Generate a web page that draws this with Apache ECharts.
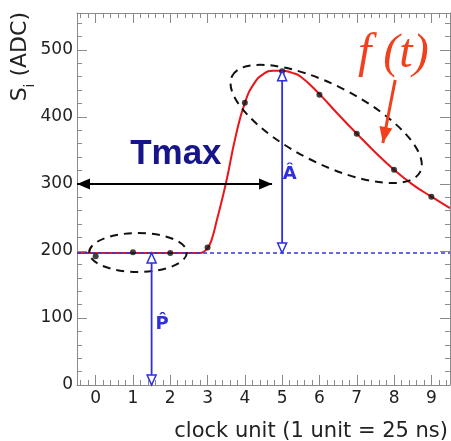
<!DOCTYPE html>
<html><head><meta charset="utf-8">
<script src="https://cdn.jsdelivr.net/npm/echarts@6/dist/echarts.min.js"></script>
<style>html,body{margin:0;padding:0;background:#fff}#c{width:451px;height:441px}</style>
</head><body><div id="c"></div>
<script>
// ---- data ----
const sampleX = [0, 1, 2, 3, 4, 5, 6, 7, 8, 9];
const sampleY = [192, 198, 197, 205, 421, 468, 433, 375, 321, 281];
const curveX = [-0.5, 2.8, 2.9, 3.0, 3.1, 3.25, 3.5, 3.75, 4.0, 4.25, 4.5, 4.75, 5.0, 5.25, 5.5, 6.0, 6.5, 7.0, 7.5, 8.0, 8.5, 9.0, 9.5];
const curveY = [197, 197, 199, 204, 215, 246, 303, 370, 421, 450, 464, 469, 469, 466, 460, 434, 404, 375, 347, 321, 299, 281, 264];
const pedestal = 197;
const peakX = 5;
const peakY = 469;
const tmaxLevel = 300;
const tmaxEnd = 4.73;
const pedX = 1.5;
const xLabels = ['0','1','2','3','4','5','6','7','8','9'];
const yLabels = ['0','100','200','300','400','500'];
const xTitle = 'clock unit (1 unit = 25 ns)';

const chart = echarts.init(document.getElementById('c'), null, {renderer: 'canvas'});
const GRAY = '#8a8a8a';
const FONT = '"DejaVu Sans", sans-serif';
function axisBase(showLabel, pos) {
  return {
    position: pos,
    axisLine: {show: true, onZero: false, lineStyle: {color: GRAY, width: 1}},
    axisTick: {show: true, inside: true, length: 10, lineStyle: {color: GRAY, width: 1}},
    minorTick: {show: true, splitNumber: 5, length: 5, lineStyle: {color: GRAY, width: 1}},
    splitLine: {show: false},
    minorSplitLine: {show: false},
    axisLabel: {show: showLabel, color: '#222', fontSize: 17, fontFamily: FONT}
  };
}
const xa = (showLabel, pos) => Object.assign(axisBase(showLabel, pos), {
  type: 'value', min: -0.5, max: 9.5, splitNumber: 10
});
const ya = (showLabel, pos) => Object.assign(axisBase(showLabel, pos), {
  type: 'value', min: 0, max: 555, interval: 100
});
const xAxis0 = xa(true, 'bottom');
xAxis0.axisLabel.margin = 5;
xAxis0.axisLabel.formatter = v => { const s = String(Math.round(v)); return (Math.abs(v - Math.round(v)) < 1e-6 && xLabels.includes(s)) ? s : ''; };
xAxis0.axisLabel.showMinLabel = false;
xAxis0.axisLabel.showMaxLabel = false;
const yAxis0 = ya(true, 'left');
yAxis0.axisLabel.margin = 4;
yAxis0.axisLabel.formatter = v => yLabels.includes(String(v)) ? String(v) : '';
yAxis0.axisLabel.showMaxLabel = false;

const option = {
  animation: false,
  backgroundColor: '#fff',
  grid: {left: 77, right: 1, top: 13, bottom: 56, containLabel: false},
  xAxis: [xAxis0, xa(false, 'top')],
  yAxis: [yAxis0, ya(false, 'right')],
  series: [
    {type: 'line', data: curveX.map((x, i) => [x, curveY[i]]), smooth: 0.5,
     showSymbol: false, lineStyle: {color: '#e8161b', width: 2}, z: 2, silent: true},
    {type: 'line', data: [[-0.5, pedestal], [9.5, pedestal]], showSymbol: false,
     lineStyle: {color: '#3535e0', width: 1.6, type: [4, 3]}, z: 3, silent: true},
    {type: 'scatter', data: sampleX.map((x, i) => [x, sampleY[i]]), symbolSize: 6,
     itemStyle: {color: '#111'}, z: 4, silent: true}
  ]
};
chart.setOption(option);

function P(x, y) { return chart.convertToPixel({xAxisIndex: 0, yAxisIndex: 0}, [x, y]); }
function head(tip, from, len, hw) {
  const dx = tip[0] - from[0], dy = tip[1] - from[1];
  const d = Math.hypot(dx, dy), ux = dx / d, uy = dy / d;
  const bx = tip[0] - ux * len, by = tip[1] - uy * len;
  return [[tip[0], tip[1]], [bx - uy * hw, by + ux * hw], [bx + uy * hw, by - ux * hw]];
}
const G = [];
function line(a, b, color, w) {
  G.push({type: 'line', z: 100, shape: {x1: a[0], y1: a[1], x2: b[0], y2: b[1]}, style: {stroke: color, lineWidth: w}});
}
function poly(pts, fill, stroke, w) {
  G.push({type: 'polygon', z: 101, shape: {points: pts}, style: {fill: fill, stroke: stroke || null, lineWidth: w || 0}});
}
function text(t, p, opts) {
  G.push({type: 'text', z: 102, x: p[0], y: p[1], rotation: opts.rotation || 0,
    style: Object.assign({text: t, align: 'center', verticalAlign: 'middle', textAlign: 'center', textVerticalAlign: 'middle'}, opts.style)});
}
function ellipse(c, rx, ry, rot) {
  G.push({type: 'ellipse', z: 99, x: c[0], y: c[1], rotation: rot, shape: {cx: 0, cy: 0, rx: rx, ry: ry},
    style: {fill: null, stroke: '#111', lineWidth: 2, lineDash: [8, 6]}});
}

// Tmax arrow
const t0 = P(-0.5, tmaxLevel), t1 = P(tmaxEnd, tmaxLevel);
line(t0, t1, '#000', 2);
poly(head(t0, t1, 13, 5.5), '#000');
poly(head(t1, t0, 13, 5.5), '#000');
text('Tmax', P(2.15, 344), {style: {fontSize: 35, fontWeight: 'bold', fontFamily: '"Liberation Sans", Arial, sans-serif', fill: '#16168a'}});

// A arrow
const BLUE = '#2f2fe0';
const a0 = P(peakX, pedestal), a1 = P(peakX, peakY);
line(a0, a1, BLUE, 1.8);
poly(head(a0, a1, 10, 4.5), '#fff', BLUE, 1.5);
poly(head(a1, a0, 10, 4.5), '#fff', BLUE, 1.5);
text('Â', P(5.2, 315), {style: {fontSize: 18, fontWeight: 'bold', fontFamily: FONT, fill: BLUE}});

// P arrow
const p0 = P(pedX, 0), p1 = P(pedX, pedestal);
line(p0, p1, BLUE, 1.8);
poly(head(p0, p1, 10, 4.5), '#fff', BLUE, 1.5);
poly(head(p1, p0, 10, 4.5), '#fff', BLUE, 1.5);
text('P\u0302', P(1.78, 91), {style: {fontSize: 18, fontWeight: 'bold', fontFamily: FONT, fill: BLUE}});

// f(t) label and arrow
const RED = '#f0401e';
text('f (t)', P(7.98, 494), {style: {fontSize: 48, fontStyle: 'italic', fontFamily: '"Liberation Serif", serif', fill: RED}});
const f0 = P(8.03, 455), f1 = P(7.70, 361);
line(f0, f1, RED, 3);
poly(head(f1, f0, 16, 6.5), RED);

// ellipses
const e1c = P(1.135, 197.7);
const e1rx = P(1.135 + 1.31, 0)[0] - e1c[0];
const e1ry = P(0, 0)[1] - P(0, 29)[1];
ellipse(e1c, e1rx, e1ry, 0);
const e2a = P(3.66, 461), e2b = P(8.70, 318);
const e2c = [(e2a[0] + e2b[0]) / 2, (e2a[1] + e2b[1]) / 2];
const e2rx = Math.hypot(e2b[0] - e2a[0], e2b[1] - e2a[1]) / 2;
const e2ry = P(0, 0)[1] - P(0, 58)[1];
ellipse(e2c, e2rx, e2ry, Math.atan2(-(e2b[1] - e2a[1]), e2b[0] - e2a[0]));

// axis titles
text(xTitle, [448, 432], {style: {fontSize: 21, fontFamily: FONT, fill: '#222', align: 'right', textAlign: 'right'}});
G.push({type: 'text', z: 102, x: 23, y: 12, rotation: Math.PI / 2,
  style: {text: '{s|S}{i|i}{s| (ADC)}', align: 'right', verticalAlign: 'middle', textAlign: 'right', textVerticalAlign: 'middle',
    fill: '#222', fontFamily: FONT, fontSize: 22,
    rich: {s: {fontSize: 22, fontFamily: FONT, fill: '#222', lineHeight: 28, verticalAlign: 'top'},
           i: {fontSize: 14, fontFamily: FONT, fill: '#222', lineHeight: 14, verticalAlign: 'bottom'}}}});

chart.setOption({graphic: {elements: G}});
</script></body></html>
